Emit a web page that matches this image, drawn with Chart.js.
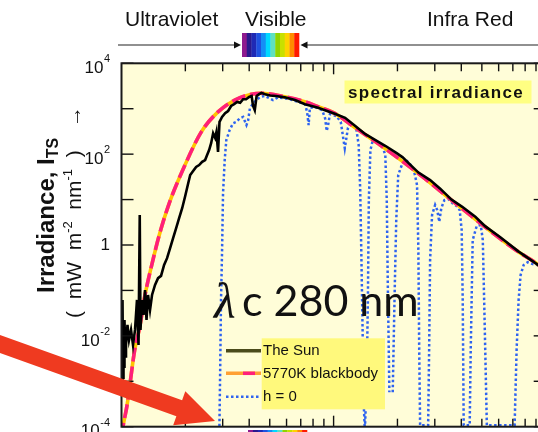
<!DOCTYPE html>
<html><head><meta charset="utf-8">
<style>
html,body{margin:0;padding:0;background:#fff;overflow:hidden;width:538px;height:432px}
#wrap{position:absolute;left:0;top:0;width:560px;height:432px}
canvas{display:block}
</style>
<script src="https://cdn.jsdelivr.net/npm/chart.js@4.4.0/dist/chart.umd.min.js"></script>
</head><body><div id="wrap"><canvas id="c" width="560" height="432" style="width:560px;height:432px"></canvas></div>
<script>
// ---- data (wavelength nm, irradiance mW m^-2 nm^-1) ----
const sunWl = [100,100.6,101.1,101.7,102.2,102.8,103.3,104.2,105,106.7,108.5,110.9,113.3,115.8,118.3,120.3,121.9,122.9,124.9,127,129.1,131.2,133.4,136.3,139.3,143.9,148.7,153.6,158.8,164,169.5,175.1,181,186.9,193.2,199.7,206.3,210.8,217.6,224.8,232.3,240,247.9,253.3,258.9,264.6,270.4,276.3,280.3,285.2,289.8,297.9,308,318.1,328.7,339.5,350.8,362.5,374.4,386.8,399.6,410.6,417.2,424.9,433.5,445.8,456.7,476,502,534.5,588.6,657.4,733.3,845,1013,1133,1265,1412,1576,1759,1983,2117,2309,2504,2852,3181,3595,4041,4657,5196,6110,7426,9020,10000];
const sunIrr = [0.0135,0.00063,0.0617,0.0012,0.0081,0.0021,0.0224,0.0035,0.0063,0.0174,0.0081,0.0135,0.0063,0.0135,0.0617,0.0063,4.57,0.0135,0.0617,0.0288,0.102,0.0224,0.0794,0.0372,0.0794,0.132,0.186,0.209,0.363,0.513,0.851,1.41,2.34,3.89,6.46,12.0,22.9,34.7,42.7,52.5,57.5,67.6,74.1,95.5,123,174,288,229,309,112,513,661,794,891,1150,1260,1410,1350,1620,1620,1820,1910,1150,933,1910,2090,2240,2090,1950,1910,1780,1550,1260,1050,776,631,417,275,204,151,105,85.1,57.5,39.8,26.9,17.4,10.0,6.92,4.17,2.57,1.48,0.724,0.389,0.269];

const bbWl = [100,101.6,106.2,115.4,121.9,128.6,138.2,151.4,168.8,191.5,237.9,285.2,342,409.6,456.4,588.6,731.3,845.3,1013,1213,1744,2504,3595,5167,7419,9020,10000];
const bbIrr = [0.00006,0.0001,0.000295,0.0049,0.0158,0.0724,0.331,1.80,8.91,38.0,309,851,1550,2090,2190,1840,1430,1110,793,438,134,37.8,9.75,2.52,0.708,0.399,0.275];

const h0Wl = [289.3,291.5,294.6,297.8,301.1,306.6,312,323.5,335.5,348,361.2,374.4,388.3,395.6,403,417.9,433.4,449.6,474.6,518,547.5,623,680.3,733.3,750,762.5,773,815,883,912,928,942,961,1030,1081,1129,1169,1196,1277,1313,1335,1353,1370,1385,1404,1432,1451,1466,1491,1532,1617,1706,1753,1781,1800,1832,1860,1900,1937,1974,2017,2111,2197,2292,2390,2474,2510,2533,2558,2791,2821,2851,2912,3010,3080,3149,3219,3330,3480,3636,3799,3930,4017,4062,4106,4382,4431,4527,4729,4940,5052,5163,5278,7136,7292,7452,7616,7872,8225,8683,9167,10000];
const h0Irr = [0.000079,0.00105,0.0617,0.661,13.8,74.1,204,339,479,513,617,661,437,562,1020,1320,1550,1820,1910,1550,1780,1620,1410,1260,851,437,1050,1100,933,617,324,437,759,692,513,135,380,457,380,158,16.2,0.468,0.0135,0.00038,0.000079,0.00107,0.0617,9.77,123,204,174,141,95.5,9.77,0.170,0.000575,null,0.000575,0.0617,3.55,34.7,63.1,74.1,60.3,44.7,20.9,0.776,0.0049,0.000107,0.000107,0.0049,0.468,4.57,7.59,5.89,3.24,6.46,9.77,10.2,8.32,7.24,5.89,2.14,0.0617,0.000107,0.000107,0.0049,1.29,2.63,2.75,1.29,0.0135,0.000107,0.000107,0.0049,0.0617,0.219,0.363,0.417,0.380,0.363,0.251];

const seriesNames = ['The Sun','5770K blackbody','h = 0'];
const xMinorTicks = [200,300,400,500,600,700,800,900,2000,3000,4000,5000,6000,7000,8000,9000];
const xMajorTicks = [1000];
const yTickValues = [1e4,1e3,1e2,1e1,1,1e-1,1e-2,1e-3,1e-4];
const yLabelValues = [1e4,1e2,1,1e-2,1e-4];
const yLabelExp = ['4','2','','-2','-4'];
const bandLabels = ['Ultraviolet','Visible','Infra Red'];
const visColors = ['#8e1a8e','#2a1a8e','#1f2ab5','#1f52e0','#158ef5','#00d8ff','#5fe0c0','#8fd400','#c8e000','#ffd200','#ff8c00','#ff1a00'];

const pts = (xs, ys) => xs.map((x,i)=>({x:x, y:ys[i]}));
const FONT = '"Liberation Sans", Arial, sans-serif';

const deco = {
  id:'deco',
  beforeDraw(chart){
    const ctx=chart.ctx, a=chart.chartArea;
    ctx.save();
    ctx.fillStyle='#ffffff'; ctx.fillRect(0,0,chart.width,chart.height);
    ctx.fillStyle='#fffdd8'; ctx.fillRect(a.left,a.top,a.right-a.left,a.bottom-a.top);
    ctx.restore();
  },
  afterDatasetsDraw(chart){
    const ctx=chart.ctx, a=chart.chartArea, xs=chart.scales.x, ys=chart.scales.y;
    ctx.save();
    const line=(x1,y1,x2,y2)=>{ctx.beginPath();ctx.moveTo(x1,y1);ctx.lineTo(x2,y2);ctx.stroke();};
    // ticks
    ctx.strokeStyle='#111'; ctx.lineWidth=1.4;
    xMinorTicks.forEach(v=>{const p=xs.getPixelForValue(v); line(p,a.top,p,a.top+8); line(p,a.bottom,p,a.bottom-8);});
    xMajorTicks.forEach(v=>{const p=xs.getPixelForValue(v); line(p,a.top,p,a.top+11); line(p,a.bottom,p,a.bottom-11);});
    yTickValues.forEach(v=>{const p=ys.getPixelForValue(v); line(a.left,p,a.left+12,p); line(a.right,p,a.right-12,p);});
    // frame
    ctx.lineWidth=2; ctx.strokeStyle='#1a1a1a';
    ctx.strokeRect(a.left,a.top,a.right-a.left,a.bottom-a.top);
    // y tick labels
    ctx.fillStyle='#111';
    yLabelValues.forEach((v,i)=>{
      const p=ys.getPixelForValue(v); const e=yLabelExp[i];
      ctx.textAlign='right'; ctx.textBaseline='middle';
      if(e===''){ ctx.font='17px '+FONT; ctx.fillText('1',110,p); }
      else{
        ctx.font='11px '+FONT; const ew=ctx.measureText(e).width;
        ctx.fillText(e,110,p-4);
        ctx.font='17px '+FONT; ctx.fillText('10',110-ew-0.5,p+5);
      }
    });
    // y axis title (rotated)
    const rot=(bx,startY,segs)=>{
      ctx.save(); ctx.translate(bx,startY); ctx.rotate(-Math.PI/2);
      ctx.textAlign='left'; ctx.textBaseline='alphabetic';
      let x=0; segs.forEach(s=>{ctx.font=s[1]; ctx.fillText(s[0],x,s[2]); x+=ctx.measureText(s[0]).width;});
      ctx.restore();
    };
    rot(53.5,293,[['Irradiance, I','bold 24px '+FONT,0],['TS','bold 16px '+FONT,4]]);
    rot(81,318,[['(  mW  m','21px '+FONT,0],['-2','13px '+FONT,-9],['  nm','21px '+FONT,0],['-1','13px '+FONT,-9],['  )    \u2192','21px '+FONT,0]]);
    // header labels
    ctx.font='21px '+FONT; ctx.textAlign='left'; ctx.textBaseline='alphabetic'; ctx.fillStyle='#111';
    ctx.fillText(bandLabels[0],125,26);
    ctx.fillText(bandLabels[1],245,26);
    ctx.fillText(bandLabels[2],427,26);
    // header arrows
    ctx.strokeStyle='#222'; ctx.lineWidth=1.2;
    line(118,45,236,45); line(305,45,560,45);
    ctx.fillStyle='#111';
    ctx.beginPath(); ctx.moveTo(241,45); ctx.lineTo(234,41.5); ctx.lineTo(234,48.5); ctx.closePath(); ctx.fill();
    ctx.beginPath(); ctx.moveTo(300.5,45); ctx.lineTo(307.5,41.5); ctx.lineTo(307.5,48.5); ctx.closePath(); ctx.fill();
    // visible spectrum bar (top) and bottom strip
    const bw=(299-242)/visColors.length;
    visColors.forEach((c,i)=>{ctx.fillStyle=c; ctx.fillRect(242+i*bw,33,bw+0.3,24);});
    const bw2=(307-248)/visColors.length;
    visColors.forEach((c,i)=>{ctx.fillStyle=c; ctx.fillRect(248+i*bw2,430,bw2+0.3,3);});
    // spectral irradiance box
    ctx.fillStyle='#ffff82'; ctx.fillRect(344.5,80.5,187,23);
    ctx.fillStyle='#111'; ctx.font='bold 17px '+FONT; ctx.textAlign='center';
    try{ctx.letterSpacing='1.3px';}catch(e){}
    ctx.fillText('spectral irradiance',436,98);
    try{ctx.letterSpacing='0px';}catch(e){}
    // legend
    ctx.fillStyle='#fff97c'; ctx.fillRect(261.7,338.3,123.3,71);
    ctx.lineCap='butt';
    ctx.strokeStyle='#4b4b1b'; ctx.lineWidth=3.5; line(226,350.7,261,350.7);
    ctx.strokeStyle='#ffa033'; line(226,373.3,261,373.3);
    ctx.strokeStyle='#ff1f7a'; line(243,373.3,255,373.3);
    ctx.strokeStyle='#2e63f0'; ctx.lineWidth=2.5; ctx.setLineDash([2.5,2.5]); line(226,396.7,259,396.7); ctx.setLineDash([]);
    ctx.fillStyle='#111'; ctx.font='15px '+FONT; ctx.textAlign='left'; ctx.textBaseline='middle';
    ctx.fillText(seriesNames[0],263,351);
    ctx.fillText(seriesNames[1],263,374);
    ctx.fillText(seriesNames[2],263,397);
    // lambda c 280 nm
    ctx.textBaseline='alphabetic';
    ctx.font='italic 50px "Liberation Serif", serif'; ctx.fillText('\u03BB',214,318);
    ctx.font='43px Lato, "Open Sans", sans-serif'; ctx.fillText('c 280 nm',242,316);
    // red arrow
    const tip=[215,421], ux=0.9413, uy=0.3371, px=-uy, py=ux;
    const hl=38, hw=18, sw=8.5;
    const bx=tip[0]-hl*ux, by=tip[1]-hl*uy;
    const sx=-20, sy=tip[1]+(sx-tip[0])*uy/ux;
    ctx.fillStyle='#ef3a20';
    ctx.beginPath();
    ctx.moveTo(sx+px*sw, sy+py*sw);
    ctx.lineTo(bx+px*sw, by+py*sw);
    ctx.lineTo(bx+px*hw, by+py*hw);
    ctx.lineTo(tip[0],tip[1]);
    ctx.lineTo(bx-px*hw, by-py*hw);
    ctx.lineTo(bx-px*sw, by-py*sw);
    ctx.lineTo(sx-px*sw, sy-py*sw);
    ctx.closePath(); ctx.fill();
    ctx.restore();
  }
};

new Chart(document.getElementById('c'), {
  type:'line',
  data:{datasets:[
    {label:seriesNames[0], data:pts(sunWl,sunIrr), borderColor:'#000', borderWidth:2.6, pointRadius:0, tension:0, clip:0},
    {label:seriesNames[1], data:pts(bbWl,bbIrr), borderColor:'#ff1f7a', borderWidth:3.6, borderDash:[14,5], pointRadius:0, cubicInterpolationMode:'monotone', clip:0},
    {label:seriesNames[1]+' base', data:pts(bbWl,bbIrr), borderColor:'#ffc400', borderWidth:3.6, pointRadius:0, cubicInterpolationMode:'monotone', clip:0},
    {label:seriesNames[2], data:pts(h0Wl,h0Irr), borderColor:'#2e63f0', borderWidth:2.5, borderDash:[2.5,2.5], pointRadius:0, tension:0, spanGaps:false, clip:0}
  ]},
  options:{
    responsive:false, animation:false, devicePixelRatio:1,
    layout:{padding:{left:121.5, top:63.3, right:14.3, bottom:5.3}},
    scales:{
      x:{type:'logarithmic', min:100, max:10000, display:false},
      y:{type:'logarithmic', min:1e-4, max:1e4, display:false}
    },
    plugins:{legend:{display:false}, tooltip:{enabled:false}}
  },
  plugins:[deco]
});
</script></body></html>
